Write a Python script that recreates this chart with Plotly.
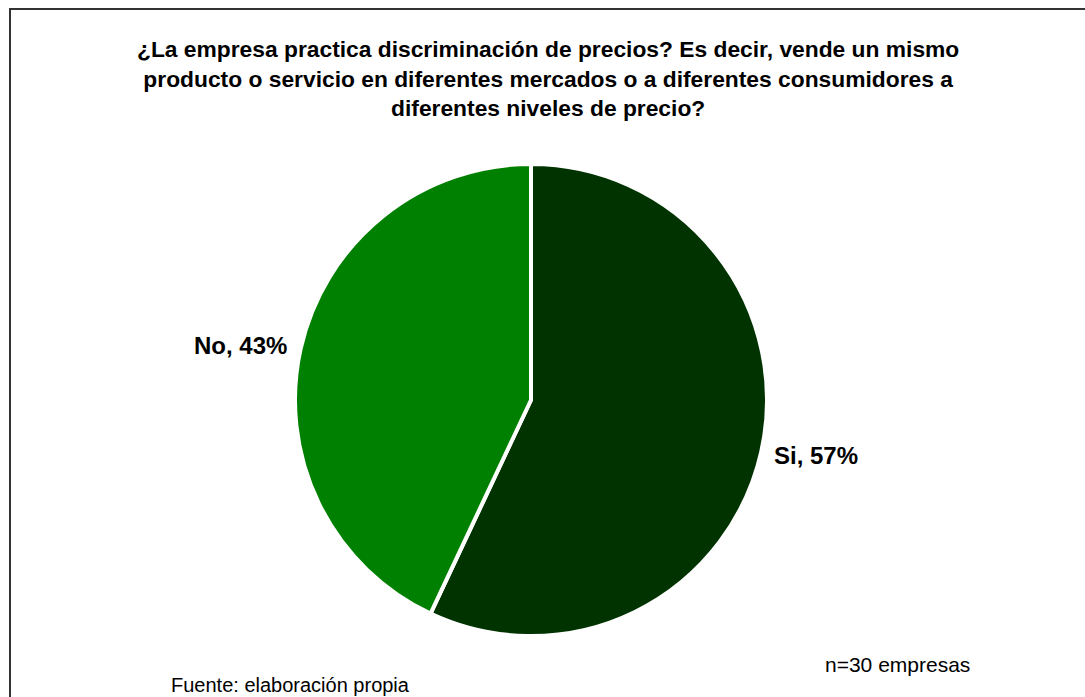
import plotly.graph_objects as go

# Survey answers (n=30 firms)
labels = ["Si", "No"]
values = [57, 43]
colors = ["#003300", "#008000"]

title_lines = [
    "¿La empresa practica discriminación de precios? Es decir, vende un mismo",
    "producto o servicio en diferentes mercados o a diferentes consumidores a",
    "diferentes niveles de precio?",
]
sample_note = "n=30 empresas"
source_note = "Fuente: elaboración propia"

W, H = 1085, 697

def px(x):
    return x / W

def py(y):
    return 1 - y / H

# pie geometry in pixels
cx, cy, r = 531, 400, 236

fig = go.Figure(
    go.Pie(
        labels=labels,
        values=values,
        sort=False,
        direction="clockwise",
        rotation=0,
        marker=dict(colors=colors, line=dict(color="white", width=4)),
        textinfo="none",
        hoverinfo="label+percent",
        showlegend=False,
        domain=dict(x=[px(cx - r), px(cx + r)], y=[py(cy + r), py(cy - r)]),
    )
)

font_family = "Liberation Sans, Arial, sans-serif"

annotations = [
    dict(
        x=px(547.5), y=py(78), xref="paper", yref="paper",
        text="<br>".join(f"<b>{line}</b>" for line in title_lines), showarrow=False,
        font=dict(family=font_family, size=22.8, color="#000000"),
        xanchor="center", yanchor="middle", align="center",
    ),
]

# slice labels placed outside the pie
label_pos = {"No": (240, 345), "Si": (816, 455)}
for lab, val in zip(labels, values):
    x, y = label_pos[lab]
    annotations.append(dict(
        x=px(x), y=py(y), xref="paper", yref="paper",
        text=f"<b>{lab}, {val}%</b>", showarrow=False,
        font=dict(family=font_family, size=24, color="#000000"),
        xanchor="center", yanchor="middle",
    ))

annotations.append(dict(
    x=px(897), y=py(664), xref="paper", yref="paper",
    text=sample_note, showarrow=False,
    font=dict(family=font_family, size=21, color="#000000"),
    xanchor="center", yanchor="middle",
))
annotations.append(dict(
    x=px(169), y=py(685), xref="paper", yref="paper",
    text=source_note, showarrow=False,
    font=dict(family=font_family, size=20, color="#000000"),
    xanchor="left", yanchor="middle",
))

fig.update_layout(
    width=W, height=H,
    margin=dict(l=0, r=0, t=0, b=0),
    paper_bgcolor="white",
    plot_bgcolor="white",
    annotations=annotations,
    shapes=[dict(
        type="rect", xref="paper", yref="paper",
        x0=px(10), y0=-0.05, x1=1.05, y1=py(9),
        line=dict(color="#333333", width=2),
        fillcolor="rgba(0,0,0,0)", layer="above",
    )],
)

fig.write_html("out.html")
